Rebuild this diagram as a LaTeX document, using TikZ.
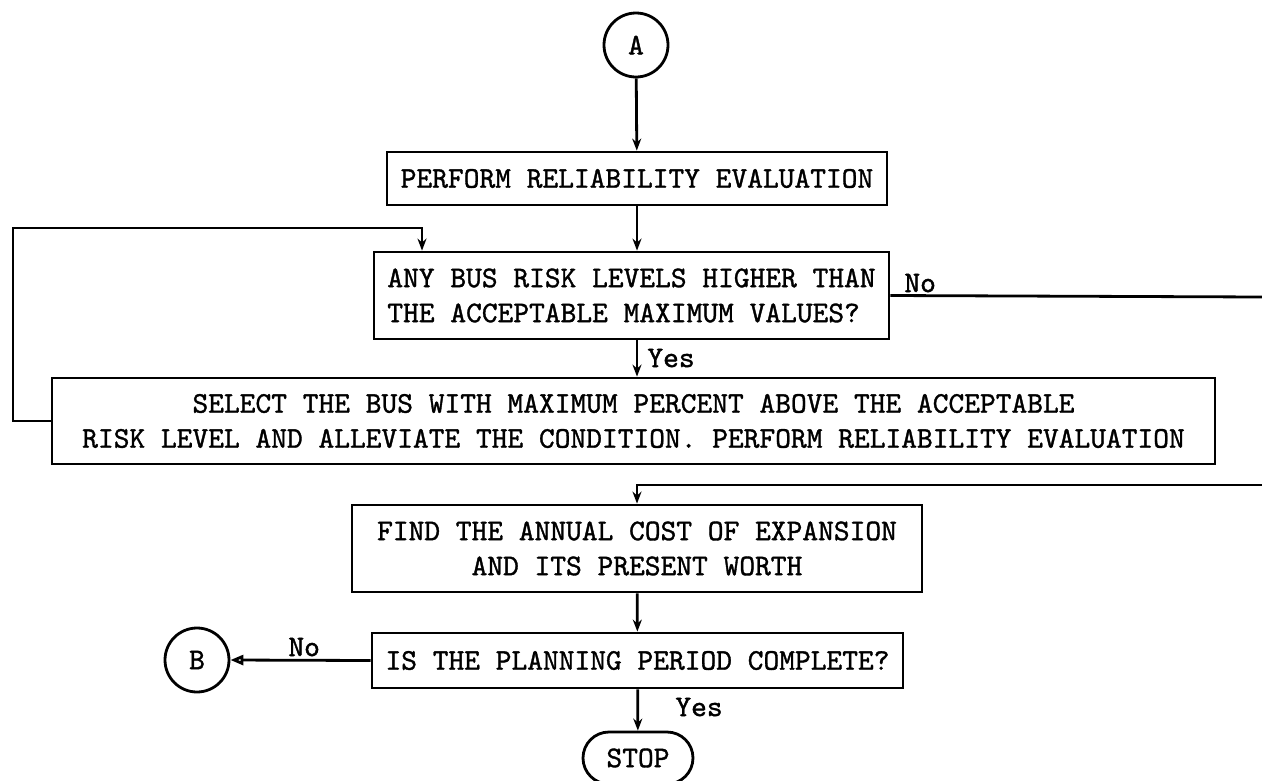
\documentclass[tikz,border=0pt]{standalone}
\usepackage{fontspec}
\newfontfamily\tw{lmmono10-regular.otf}[FakeBold=1.2]
\usetikzlibrary{arrows.meta,shapes.misc}
\begin{document}
\begin{tikzpicture}[x=1pt,y=-1pt,
  line width=2.8pt,
  every node/.style={font=\tw\fontsize{30}{35}\selectfont},
  proc/.style={draw, rectangle, inner sep=0pt},
  conn/.style={draw, circle, minimum size=64pt, inner sep=0pt},
  term/.style={draw, rounded rectangle, minimum width=110pt, minimum height=52pt, inner sep=0pt},
  arr/.style={-{Stealth[length=12pt,width=9pt]}},
  openarr/.style={-{Triangle[open,length=13pt,width=10pt]}},
  lbl/.style={inner sep=0pt, anchor=west}]
\useasboundingbox (0,0) rectangle (1262,780);
\node[conn] (A) at (636,45) {A};
\node[proc, minimum width=500pt, minimum height=53pt] (p1) at (637,178.5) {PERFORM RELIABILITY EVALUATION};
\node[proc, minimum width=515pt, minimum height=87pt, align=left] (p2) at (631.5,295.5) {ANY BUS RISK LEVELS HIGHER THAN\\THE ACCEPTABLE MAXIMUM VALUES?};
\node[proc, minimum width=1163pt, minimum height=86pt, align=center] (p3) at (633.5,421) {SELECT THE BUS WITH MAXIMUM PERCENT ABOVE THE ACCEPTABLE\\RISK LEVEL AND ALLEVIATE THE CONDITION. PERFORM RELIABILITY EVALUATION};
\node[proc, minimum width=570pt, minimum height=87pt, align=center] (p4) at (637,548.5) {FIND THE ANNUAL COST OF EXPANSION\\AND ITS PRESENT WORTH};
\node[proc, minimum width=531pt, minimum height=55pt] (p5) at (637.5,660.5) {IS THE PLANNING PERIOD COMPLETE?};
\node[conn] (B) at (197,660) {B};
\node[term] (stop) at (638,758) {STOP};
\coordinate (noEnd) at (1262,297);
\coordinate (inStart) at (1262,485);
\coordinate (loopL) at (13,228);
\coordinate (loopR) at (422,228);
% connectors
\draw[arr] (A) -- (p1);
\draw[arr] (p1) -- (p1.south |- p2.north);
\draw[arr] (p1.south |- p2.south) -- (p1.south |- p3.north);
\draw (p2.east) -- (noEnd);
\draw[arr] (p3.west) -| (loopL) -- (loopR) -- (loopR |- p2.north);
\draw[arr] (inStart) -| (p4.north);
\draw[arr] (p4) -- (p5);
\draw[openarr] (p5.west) -- (B.east);
\draw[arr] (p5) -- (stop);
% labels
\node[lbl] (lno1) at (903,283) {No};
\node[lbl] (lyes1) at (646,358) {Yes};
\node[lbl] (lno2) at (287,647) {No};
\node[lbl] (lyes2) at (674,707) {Yes};
\end{tikzpicture}
\end{document}
